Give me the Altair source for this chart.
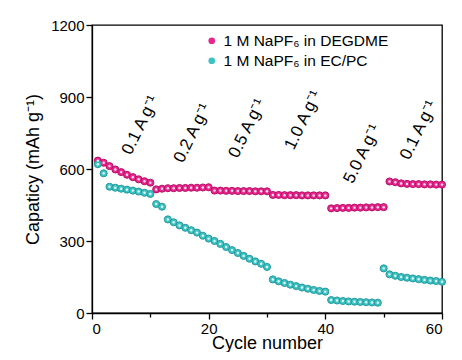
import altair as alt
import pandas as pd

cycles = list(range(1, 61))
degdme = [635, 626, 612, 598, 587, 576, 566, 557, 549, 543,
          515, 518, 520, 520, 521, 521, 522, 522, 523, 524,
          510, 510, 509, 509, 508, 508, 508, 507, 507, 507,
          492, 492, 491, 491, 491, 490, 490, 490, 490, 490,
          436, 437, 438, 438, 439, 439, 440, 440, 441, 441,
          548, 545, 540, 538, 537, 537, 536, 536, 535, 535]
ecpc = [620, 582, 526, 522, 518, 514, 510, 506, 501, 496,
        454, 443, 390, 378, 365, 355, 345, 335, 322, 310,
        300, 288, 275, 262, 250, 238, 226, 215, 205, 192,
        140, 132, 125, 118, 112, 106, 101, 96, 92, 89,
        54, 52, 50, 48, 47, 46, 45, 44, 43, 186,
        161, 155, 150, 147, 144, 141, 138, 135, 133, 130]
series_names = ["1 M NaPF\u2086 in DEGDME", "1 M NaPF\u2086 in EC/PC"]
series_colors = ["#e8288c", "#3ec3c4"]
series_edges = ["#b80f68", "#259a9b"]

rate_labels = ["0.1 A\u2009g\u207b\u00b9", "0.2 A\u2009g\u207b\u00b9", "0.5 A\u2009g\u207b\u00b9",
               "1.0 A\u2009g\u207b\u00b9", "5.0 A\u2009g\u207b\u00b9", "0.1 A\u2009g\u207b\u00b9"]
label_x = [6.7, 15.6, 25.0, 34.6, 44.7, 54.4]
label_y = [655, 622, 642, 676, 535, 634]

df = pd.concat([
    pd.DataFrame({"cycle": cycles, "cap": degdme, "series": series_names[0]}),
    pd.DataFrame({"cycle": cycles, "cap": ecpc, "series": series_names[1]}),
])
lab = pd.DataFrame({"x": label_x, "y": label_y, "t": rate_labels})

xs = alt.Scale(domain=[0, 60], nice=False)
ys = alt.Scale(domain=[0, 1200], nice=False)

xaxis = alt.Axis(values=list(range(0, 61, 10)),
                 labelExpr="datum.value % 20 === 0 ? datum.label : ''",
                 tickSize={"condition": {"test": "datum.value % 20 === 0", "value": 6}, "value": 4},
                 title="Cycle number", grid=False, labelFontSize=15, titleFontSize=18,
                 labelPadding=2, titlePadding=-2)
yaxis = alt.Axis(values=list(range(0, 1201, 150)), format="d",
                 labelExpr="datum.value % 300 === 0 ? datum.label : ''",
                 tickSize={"condition": {"test": "datum.value % 300 === 0", "value": 6}, "value": 4},
                 title="Capaticy (mAh g\u207b\u00b9)", grid=False, labelFontSize=15, titleFontSize=18,
                 labelPadding=2, titlePadding=8)

points = alt.Chart(df).mark_point(filled=True, size=50, strokeWidth=1, opacity=1).encode(
    x=alt.X("cycle:Q", scale=xs, axis=xaxis),
    y=alt.Y("cap:Q", scale=ys, axis=yaxis),
    color=alt.Color("series:N", scale=alt.Scale(domain=series_names, range=series_colors),
                    legend=alt.Legend(title=None, orient="none", legendX=112, legendY=8,
                                      labelFontSize=15.5, symbolSize=45, rowPadding=3,
                                      symbolStrokeWidth=0, labelOffset=4, padding=0,
                                      labelLimit=400)),
    stroke=alt.Stroke("series:N", scale=alt.Scale(domain=series_names, range=series_edges), legend=None),
)
hl = alt.Chart(df).mark_point(filled=True, size=6, color="white", opacity=0.85).encode(
    x=alt.X("cycle:Q", scale=xs), y=alt.Y("cap:Q", scale=ys))

texts = alt.Chart(lab).mark_text(angle=296, align="left", baseline="alphabetic",
                                 fontSize=17, color="black").encode(
    x=alt.X("x:Q", scale=xs), y=alt.Y("y:Q", scale=ys), text="t:N")

chart = alt.layer(points, hl, texts).properties(
    width=350, height=288,
    autosize=alt.AutoSizeParams(type="none"),
    padding={"left": 84, "top": 17, "right": 12, "bottom": 39},
).configure(font="Liberation Sans").configure_view(
    stroke="black", strokeWidth=1.3
).configure_axis(
    domainColor="black", tickColor="black", labelColor="black", titleColor="black",
    domainWidth=1.3, tickWidth=1.3, titleFontWeight="normal"
)

chart.save("out.html", embed_options={"renderer": "svg", "actions": False})
